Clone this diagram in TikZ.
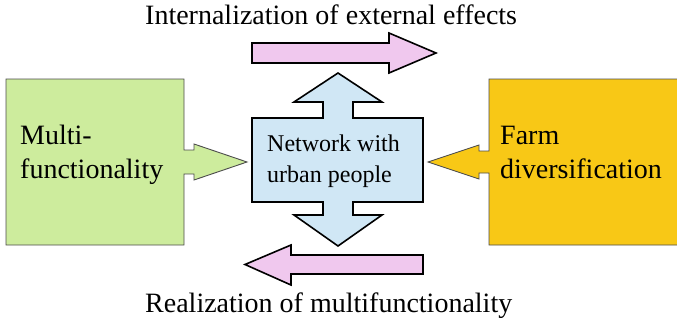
\documentclass[tikz,border=0pt]{standalone}
\usepackage{fontspec}
\setmainfont{Liberation Serif}
\definecolor{pinkfill}{HTML}{F0C8EE}
\definecolor{bluefill}{HTML}{D0E7F5}
\definecolor{greenfill}{HTML}{CDEC9D}
\definecolor{yellowfill}{HTML}{F8C816}
\tikzset{
  boldshape/.style={draw=black, line width=1.6pt, line join=miter},
  callout/.style={draw=black!70, line width=0.9pt, line join=miter},
  bigtext/.style={inner sep=0pt, anchor=base west, font=\fontsize{28}{33.5}\selectfont, align=left},
  midtext/.style={inner sep=0pt, anchor=base west, font=\fontsize{24}{31}\selectfont, align=left},
}
\begin{document}
\begin{tikzpicture}[x=1pt, y=-1pt]
  \useasboundingbox (0,0) rectangle (677,321);

  % left callout: multifunctionality
  \draw[callout, fill=greenfill]
    (6,79) -- (184,79) -- (184,150) -- (194,150) -- (194,144) -- (247,162)
    -- (194,180) -- (194,174) -- (184,174) -- (184,245) -- (6,245) -- cycle;

  % right callout: farm diversification
  \draw[callout, fill=yellowfill]
    (680,79) -- (489,79) -- (489,151) -- (479,151) -- (479,145) -- (428,162)
    -- (479,179) -- (479,173) -- (489,173) -- (489,245) -- (680,245);

  % central box with up and down arrows
  \draw[boldshape, fill=bluefill]
    (252,118) -- (323,118) -- (323,102) -- (294,102) -- (338,73) -- (382,102)
    -- (353,102) -- (353,118) -- (423,118) -- (423,202) -- (353,202) -- (353,215)
    -- (382,215) -- (338,246) -- (294,215) -- (323,215) -- (323,202) -- (252,202) -- cycle;

  % upper block arrow, pointing right
  \draw[boldshape, fill=pinkfill]
    (252,43) -- (389,43) -- (389,33) -- (436,53) -- (389,73) -- (389,63) -- (252,63) -- cycle;

  % lower block arrow, pointing left
  \draw[boldshape, fill=pinkfill]
    (423,255) -- (291,255) -- (291,245) -- (245,264.5) -- (291,285) -- (291,274) -- (423,274) -- cycle;

  % labels (base anchor sits on the last line)
  \node[bigtext] (multi) at (20,178) {Multi-\\functionality};
  \node[bigtext] (farm) at (500,178) {Farm\\diversification};
  \node[midtext] (network) at (267,182) {Network with\\urban people};
  \node[bigtext] (internal) at (145,25) {Internalization of external effects};
  \node[bigtext] (realize) at (145,312) {Realization of multifunctionality};
\end{tikzpicture}
\end{document}
